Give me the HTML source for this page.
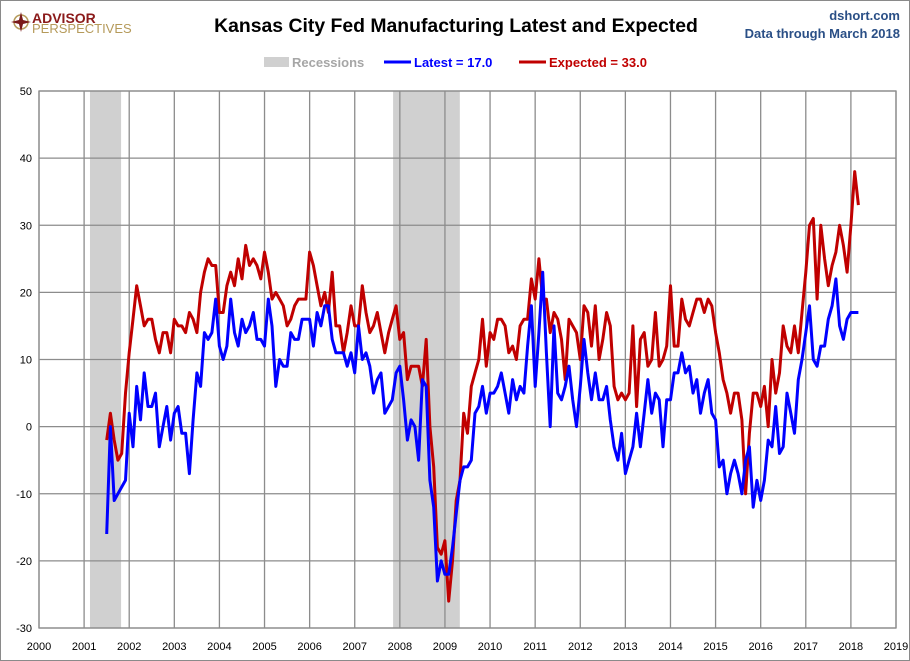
<!DOCTYPE html>
<html><head><meta charset="utf-8"><style>
body{margin:0;background:#fff;}
#wrap{position:relative;width:908px;height:659px;border:1px solid #8a8a8a;background:#fff;font-family:"Liberation Sans",sans-serif;overflow:hidden}
svg{position:absolute;left:0;top:0}
</style></head><body>
<div id="wrap">
<svg id="chart" width="910" height="661">
<g>
<circle cx="20" cy="21" r="7" fill="none" stroke="#b59a5a" stroke-width="1.5"/>
<path d="M20 11 L22 19 L30 21 L22 23 L20 31 L18 23 L10 21 L18 19 Z" fill="#7a1a1a"/>
<text x="31" y="22" font-size="14" font-weight="bold" fill="#8b1a1a">ADVISOR</text>
<text x="31" y="32" font-size="13" fill="#b59a5a">PERSPECTIVES</text>
</g>
<text x="455" y="31" text-anchor="middle" font-size="19.4" font-weight="bold" fill="#000">Kansas City Fed Manufacturing Latest and Expected</text>
<text x="899" y="19" text-anchor="end" font-size="13" font-weight="bold" fill="#2a4f86">dshort.com</text>
<text x="899" y="37" text-anchor="end" font-size="13" font-weight="bold" fill="#2a4f86">Data through March 2018</text>
<g>
<rect x="263" y="56" width="25" height="10" fill="#d0d0d0"/>
<text x="291" y="66" font-size="13" font-weight="bold" fill="#a6a6a6">Recessions</text>
<line x1="383" y1="61" x2="410" y2="61" stroke="#0000ff" stroke-width="3"/>
<text x="413" y="66" font-size="13" font-weight="bold" fill="#0000ff">Latest = 17.0</text>
<line x1="518" y1="61" x2="545" y2="61" stroke="#c00000" stroke-width="3"/>
<text x="548" y="66" font-size="13" font-weight="bold" fill="#c00000">Expected = 33.0</text>
</g>
<g id="plot"></g>
</svg>
</div>
<script>
const yTicks=[50,40,30,20,10,0,-10,-20,-30];
const xTicks=[2000,2001,2002,2003,2004,2005,2006,2007,2008,2009,2010,2011,2012,2013,2014,2015,2016,2017,2018,2019];
const recessions=[[2001.13,2001.82],[2007.85,2009.33]];
const startYear=2001, startMonth=6; // July 2001
const latest=[-16,0,-11,-10,-9,-8,
2,-3,6,1,8,3,3,5,-3,0,3,-2,
2,3,-1,-1,-7,1,8,6,14,13,14,19,
12,10,12,19,14,12,16,14,15,17,13,13,
12,19,15,6,10,9,9,14,13,13,16,16,
16,12,17,15,18,18,13,11,11,11,9,11,
8,15,10,11,9,5,7,8,2,3,4,8,
9,4,-2,1,0,-5,7,6,-8,-12,-23,-20,
-22,-22,-18,-13,-8,-6,-6,-5,2,3,6,2,
5,5,6,8,5,2,7,4,6,5,12,18,
6,14,23,11,0,15,5,4,6,9,4,0,
6,13,8,4,8,4,4,6,1,-3,-5,-1,
-7,-5,-3,2,-3,2,7,2,5,4,-3,4,
4,8,8,11,8,9,5,7,2,5,7,2,
1,-6,-5,-10,-7,-5,-7,-10,-5,-3,-12,-8,
-11,-8,-2,-3,3,-4,-3,5,2,-1,7,10,
14,18,10,9,12,12,16,18,22,15,13,16,
17,17,17];
const expected=[-2,2,-2,-5,-4,5,
11,16,21,18,15,16,16,13,11,14,14,11,
16,15,15,14,17,16,14,20,23,25,24,24,
17,17,21,23,21,25,22,27,24,25,24,22,
26,23,19,20,19,18,15,16,18,19,19,19,
26,24,21,18,20,17,23,15,15,11,14,18,
15,15,21,17,14,15,17,14,11,14,16,18,
13,14,7,9,9,9,6,13,0,-6,-18,-19,
-17,-26,-20,-11,-8,2,-1,6,8,10,16,9,
14,13,16,16,15,11,12,10,15,16,16,22,
19,25,19,19,14,17,16,13,7,16,15,14,
10,18,17,12,18,10,13,17,15,6,4,5,
4,5,15,3,13,14,9,10,17,9,10,12,
21,12,12,19,16,15,17,19,19,17,19,18,
14,11,7,5,2,5,5,1,-10,-1,5,5,
3,6,0,10,5,8,15,12,11,15,11,17,
23,30,31,19,30,25,21,24,26,30,27,23,
30,38,33];

const L=38,R=895,T=90,B=627;
const xs=t=>L+(t-2000)/(2019-2000)*(R-L);
const ys=v=>T+(50-v)/(80)*(B-T);
const NS='http://www.w3.org/2000/svg';
const plot=document.getElementById('plot');
function mk(tag,attrs,parent){const e=document.createElementNS(NS,tag);for(const k in attrs)e.setAttribute(k,attrs[k]);(parent||plot).appendChild(e);return e;}
recessions.forEach(r=>{
 const e=mk('rect',{x:xs(r[0]),y:T,width:xs(r[1])-xs(r[0]),height:B-T,fill:'#d0d0d0'});
 
 
});
yTicks.forEach(v=>{
 const g=mk('line',{x1:L,x2:R,y1:ys(v),y2:ys(v),stroke:'#8c8c8c','stroke-width':1.3});
 
 
 const t=mk('text',{x:L-7,y:ys(v)+4,'text-anchor':'end','font-size':11,fill:'#000'});
 t.textContent=v;
 
 
});
xTicks.forEach(yr=>{
 const g=mk('line',{x1:xs(yr),x2:xs(yr),y1:T,y2:B,stroke:'#8c8c8c','stroke-width':1.3});
 
 
 const t=mk('text',{x:xs(yr),y:B+22,'text-anchor':'middle','font-size':11,fill:'#000'});
 t.textContent=yr;
 
 
});
const frame=mk('rect',{x:L,y:T,width:R-L,height:B-T,fill:'none',stroke:'#8c8c8c','stroke-width':1.3});


function line(arr,color,name){
 const pts=arr.map((v,i)=>{const t=startYear+(startMonth+i)/12;return xs(t).toFixed(1)+','+ys(v).toFixed(1);}).join(' ');
 const p=mk('polyline',{points:pts,fill:'none',stroke:color,'stroke-width':3,'stroke-linejoin':'round'});
 
 
}
line(expected,'#c00000','expected-line');
line(latest,'#0000ff','latest-line');
</script>
</body></html>
